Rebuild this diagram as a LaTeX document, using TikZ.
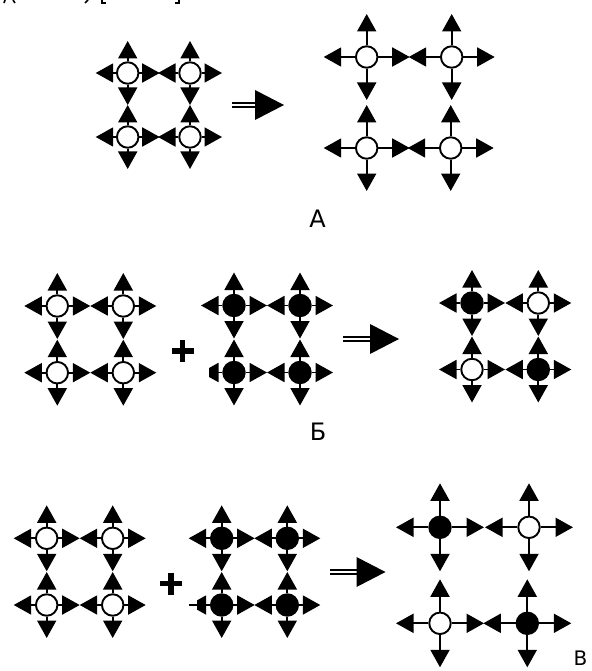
\documentclass[tikz,border=0pt]{standalone}
\usepackage{fontspec}
\setmainfont{DejaVu Sans}
\usetikzlibrary{arrows.meta}
\tikzset{
  x=1pt,y=-1pt,
  atom/.style={circle,draw=black,line width=1.9pt,minimum size=21.5pt,inner sep=0pt},
  open/.style={atom,fill=white},
  full/.style={atom,fill=black},
  bond/.style={line width=1.9pt,-{Triangle[length=17.5pt,width=19pt]}},
  lbl/.style={font=\fontsize{24}{24}\selectfont,inner sep=0pt},
  lblsmall/.style={font=\fontsize{20}{20}\selectfont,inner sep=0pt},
  plus/.style={line width=5.8pt},
  rail/.style={line width=1.8pt},
  head/.style={fill=black,draw=none},
  tipmask/.style={fill=white,draw=none},
  stub/.style={line width=1.6pt},
  edgemark/.style={line width=1.6pt}
}
% \cell{name}{x}{y}{style}{reach}
\newcommand{\cell}[5]{%
  \coordinate (#1l) at (#2-#5,#3);
  \coordinate (#1r) at (#2+#5,#3);
  \coordinate (#1u) at (#2,#3-#5);
  \coordinate (#1d) at (#2,#3+#5);
  \node[#4] (#1) at (#2,#3) {};
  \draw[bond] (#1.west) -- (#1l);
  \draw[bond] (#1.east) -- (#1r);
  \draw[bond] (#1.north) -- (#1u);
  \draw[bond] (#1.south) -- (#1d);
}
% \yields{name}{start x}{y}{head base x}{tip x}
\newcommand{\yields}[5]{%
  \coordinate (#1a) at (#2,#3);
  \coordinate (#1b) at (#4,#3);
  \coordinate (#1t) at (#4,#3-15);
  \coordinate (#1p) at (#5,#3);
  \coordinate (#1q) at (#4,#3+15);
  \draw[rail] ([yshift=2.3pt]#1a) -- ([yshift=2.3pt]#1b);
  \draw[rail] ([yshift=-2.3pt]#1a) -- ([yshift=-2.3pt]#1b);
  \fill[head] (#1t) -- (#1p) -- (#1q) -- cycle;
}
\newcommand{\plussign}[3]{%
  \coordinate (#1l) at (#2-11,#3);
  \coordinate (#1r) at (#2+11,#3);
  \coordinate (#1u) at (#2,#3-11);
  \coordinate (#1d) at (#2,#3+11);
  \draw[plus] (#1l) -- (#1r);
  \draw[plus] (#1u) -- (#1d);
}
\begin{document}
\begin{tikzpicture}
\clip (0,0) rectangle (591,671);
\fill[white] (0,0) rectangle (591,671);
% remnants of a cropped line along the top edge
\draw[edgemark] (5,0) -- (4,3);
\draw[edgemark] (13,0) -- (15,3);
\draw[edgemark] (88,0) -- (85,3);
\draw[edgemark] (102,0) -- (102,3) -- (106,3);
\draw[edgemark] (179,0) -- (179,3) -- (175,3);
% A
\cell{aa}{127.7}{73}{open}{32}
\cell{ab}{190}{73}{open}{32}
\cell{ac}{127.7}{137}{open}{32}
\cell{ad}{190}{137}{open}{32}
\yields{ya}{232}{105}{255}{284}
\cell{ba}{366.7}{57}{open}{43}
\cell{bb}{451.7}{57}{open}{43}
\cell{bc}{366.7}{148}{open}{43}
\cell{bd}{450.7}{148}{open}{43}
\node[lbl] (la) at (317.5,218.5) {А};
% B
\cell{ca}{57.3}{306}{open}{33}
\cell{cb}{123.3}{306}{open}{33}
\cell{cc}{57.3}{372.7}{open}{33}
\cell{cd}{123.3}{372.7}{open}{33}
\plussign{pa}{182.5}{351}
\cell{da}{234}{305.5}{full}{33}
\cell{db}{300}{305.5}{full}{33}
\cell{dc}{234}{372.5}{full}{33}
\cell{dd}{300}{372.5}{full}{33}
\fill[tipmask] (198,362) rectangle (209.3,383);
\yields{yb}{343}{339}{370}{399}
\cell{ea}{472}{303}{full}{33}
\cell{eb}{538.3}{303}{open}{33}
\cell{ec}{472}{369.5}{open}{33}
\cell{ed}{538.3}{369.5}{full}{33}
\node[lbl] (lb) at (318,432) {Б};
% V
\cell{fa}{46.7}{538.3}{open}{33}
\cell{fb}{112.7}{538.3}{open}{33}
\cell{fc}{46.7}{605}{open}{33}
\cell{fd}{112.7}{605}{open}{33}
\plussign{pb}{171}{583.5}
\cell{ga}{221.7}{538.3}{full}{33}
\cell{gb}{287.3}{538.3}{full}{33}
\cell{gc}{221.7}{605}{full}{33}
\cell{gd}{287.3}{605}{full}{33}
\fill[tipmask] (186,595) rectangle (197,615);
\coordinate (gcstub) at (189,605);
\draw[stub] (gc.west) -- (gcstub);
\yields{yc}{330}{572}{356.5}{385.5}
\cell{ha}{440}{527.3}{full}{44}
\cell{hb}{529}{527.3}{open}{44}
\cell{hc}{440}{623.3}{open}{44}
\cell{hd}{527.3}{623.3}{full}{44}
\node[lblsmall,anchor=north west] (lv) at (573.5,651) {В};
\end{tikzpicture}
\end{document}
